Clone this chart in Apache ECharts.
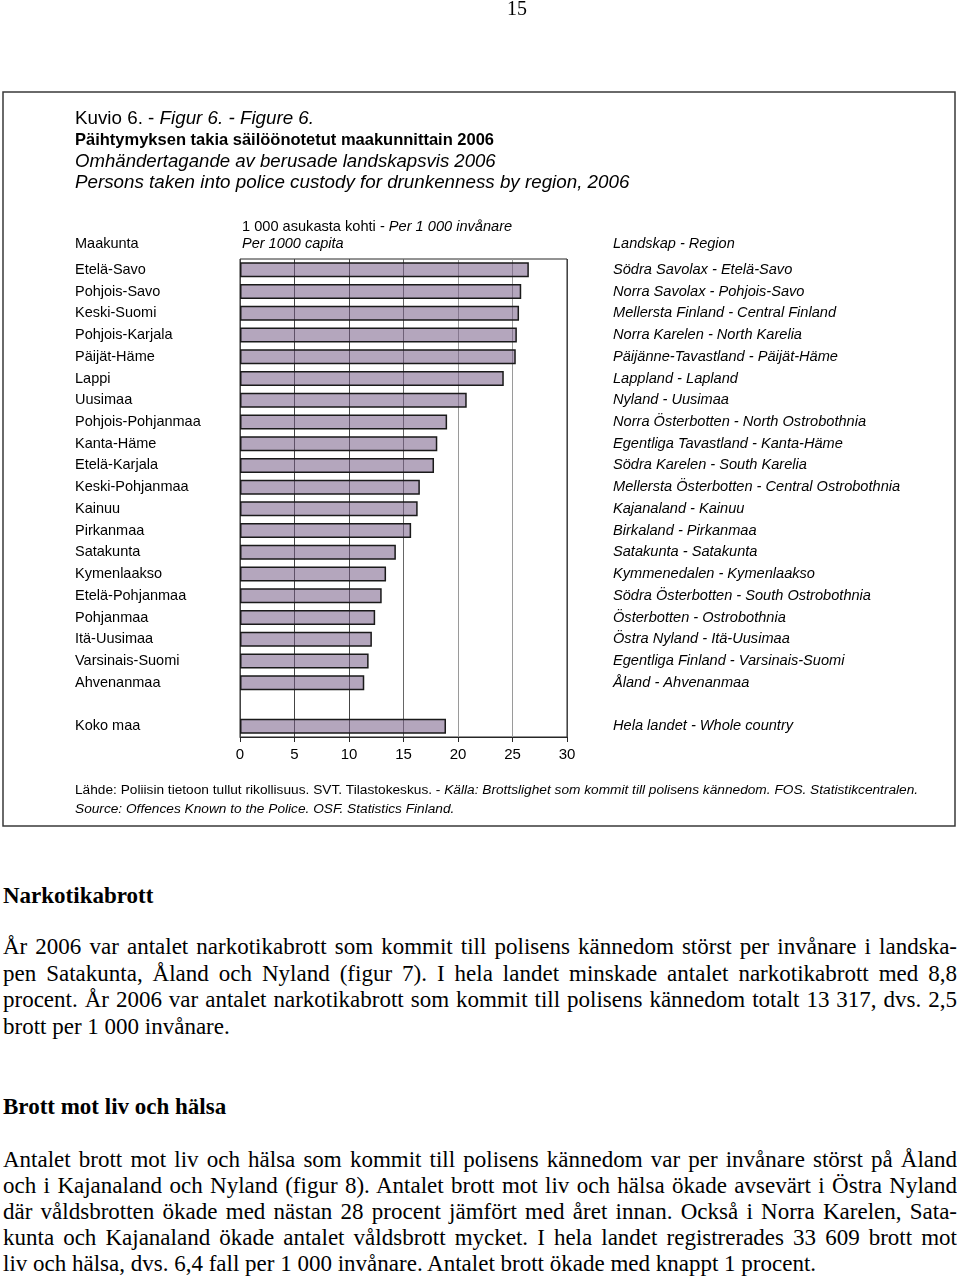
<!DOCTYPE html>
<html><head><meta charset="utf-8">
<script src="https://cdn.jsdelivr.net/npm/echarts@6/dist/echarts.min.js"></script>
<style>
html,body{margin:0;padding:0;background:#fff;}
#page{position:relative;width:960px;height:1279px;overflow:hidden;background:#fff;}
#chart{position:absolute;left:0;top:0;width:960px;height:840px;z-index:1;}
.t{position:absolute;left:3px;width:954px;font-family:"Liberation Serif","Times New Roman",serif;font-size:23px;line-height:26px;color:#000;white-space:nowrap;}
.j{text-align:justify;text-align-last:justify;white-space:normal;height:26px;overflow:hidden;}
.h{font-weight:bold;}
#pg{position:absolute;z-index:5;left:487px;width:60px;top:-4px;text-align:center;font-family:"Liberation Serif","Times New Roman",serif;font-size:20px;line-height:24px;}
</style></head>
<body>
<div id="page">
<div id="pg">15</div>
<div id="chart"></div>
<div class="t h" style="top:883px">Narkotikabrott</div>
<div class="t j" style="top:934px">År 2006 var antalet narkotikabrott som kommit till polisens kännedom störst per invånare i landska-</div>
<div class="t j" style="top:961px">pen Satakunta, Åland och Nyland (figur 7). I hela landet minskade antalet narkotikabrott med 8,8</div>
<div class="t j" style="top:987px">procent. År 2006 var antalet narkotikabrott som kommit till polisens kännedom totalt 13 317, dvs. 2,5</div>
<div class="t" style="top:1014px">brott per 1 000 invånare.</div>
<div class="t h" style="top:1094px">Brott mot liv och hälsa</div>
<div class="t j" style="top:1147px">Antalet brott mot liv och hälsa som kommit till polisens kännedom var per invånare störst på Åland</div>
<div class="t j" style="top:1173px">och i Kajanaland och Nyland (figur 8). Antalet brott mot liv och hälsa ökade avsevärt i Östra Nyland</div>
<div class="t j" style="top:1199px">där våldsbrotten ökade med nästan 28 procent jämfört med året innan. Också i Norra Karelen, Sata-</div>
<div class="t j" style="top:1225px">kunta och Kajanaland ökade antalet våldsbrott mycket. I hela landet registrerades 33 609 brott mot</div>
<div class="t" style="top:1251px">liv och hälsa, dvs. 6,4 fall per 1 000 invånare. Antalet brott ökade med knappt 1 procent.</div>
</div>
<script>
// ---- data ----
const regionsFi = ["Etelä-Savo","Pohjois-Savo","Keski-Suomi","Pohjois-Karjala","Päijät-Häme","Lappi","Uusimaa","Pohjois-Pohjanmaa","Kanta-Häme","Etelä-Karjala","Keski-Pohjanmaa","Kainuu","Pirkanmaa","Satakunta","Kymenlaakso","Etelä-Pohjanmaa","Pohjanmaa","Itä-Uusimaa","Varsinais-Suomi","Ahvenanmaa","","Koko maa"];
const regionsSvEn = ["Södra Savolax - Etelä-Savo","Norra Savolax - Pohjois-Savo","Mellersta Finland - Central Finland","Norra Karelen - North Karelia","Päijänne-Tavastland - Päijät-Häme","Lappland - Lapland","Nyland - Uusimaa","Norra Österbotten - North Ostrobothnia","Egentliga Tavastland - Kanta-Häme","Södra Karelen - South Karelia","Mellersta Österbotten - Central Ostrobothnia","Kajanaland - Kainuu","Birkaland - Pirkanmaa","Satakunta - Satakunta","Kymmenedalen - Kymenlaakso","Södra Österbotten - South Ostrobothnia","Österbotten - Ostrobothnia","Östra Nyland - Itä-Uusimaa","Egentliga Finland - Varsinais-Suomi","Åland - Ahvenanmaa","","Hela landet - Whole country"];
const perThousand = [26.5,25.8,25.6,25.4,25.3,24.2,20.8,19.0,18.1,17.8,16.5,16.3,15.7,14.3,13.4,13.0,12.4,12.1,11.8,11.4,null,18.9];
const axisMin = 0, axisMax = 30, axisStep = 5;

const SANS = '"Liberation Sans", Arial, Helvetica, sans-serif';
const chart = echarts.init(document.getElementById('chart'), null, {renderer:'canvas'});
function txt(x, y, text, opts) {
  return Object.assign({type:'text', x:x, y:y, silent:true, style:Object.assign({
    text:text, fontFamily:SANS, fontSize:14.5, fill:'#000', textVerticalAlign:'middle', textAlign:'left'
  }, opts||{})});
}
const option = {
  animation:false,
  backgroundColor:'transparent',
  grid:{left:240, top:259, width:327, height:478, show:true, borderColor:'#262626', borderWidth:1, containLabel:false, outerBoundsMode:'none'},
  xAxis:{type:'value', min:axisMin, max:axisMax, interval:axisStep,
    axisLine:{show:true, lineStyle:{color:'#262626', width:1}},
    axisTick:{show:true, length:5, lineStyle:{color:'#262626'}},
    axisLabel:{fontFamily:SANS, fontSize:15, color:'#000', margin:10},
    splitLine:{show:true, lineStyle:{width:1, color:['#444','#444','#444','#666','#9a9a9a','#9a9a9a','#444']}}
  },
  yAxis:[
    {type:'category', data:regionsFi, inverse:true, position:'left',
      axisLine:{show:false}, axisTick:{show:false}, splitLine:{show:false},
      axisLabel:{align:'left', margin:165, fontFamily:SANS, fontSize:14.5, color:'#000', interval:0}},
    {type:'category', data:regionsSvEn, inverse:true, position:'right',
      axisLine:{show:false}, axisTick:{show:false}, splitLine:{show:false},
      axisLabel:{align:'left', margin:46, fontFamily:SANS, fontSize:14.6, fontStyle:'italic', color:'#000', interval:0}}
  ],
  series:[{type:'bar', yAxisIndex:0, data:perThousand, barWidth:15, silent:true,
    itemStyle:{color:'rgba(118,92,135,0.55)', borderColor:'#1a1a1a', borderWidth:1.5}}],
  graphic:{elements:[
    {type:'rect', silent:true, shape:{x:3, y:92, width:952, height:734}, style:{fill:'none', stroke:'#3a3a3a', lineWidth:1.5}},
    txt(75, 119, '{n|Kuvio 6. - }{i|Figur 6. - Figure 6.}', {fontSize:18.8, rich:{n:{fontFamily:SANS, fontSize:18.8}, i:{fontFamily:SANS, fontSize:18.8, fontStyle:'italic'}}}),
    txt(75, 140, 'Päihtymyksen takia säilöönotetut maakunnittain 2006', {fontSize:16.5, fontWeight:'bold'}),
    txt(75, 161.5, 'Omhändertagande av berusade landskapsvis 2006', {fontSize:18.6, fontStyle:'italic'}),
    txt(75, 183, 'Persons taken into police custody for drunkenness by region, 2006', {fontSize:18.8, fontStyle:'italic'}),
    txt(242, 227, '{n|1 000 asukasta kohti - }{i|Per 1 000 invånare}', {rich:{n:{fontFamily:SANS, fontSize:14.6}, i:{fontFamily:SANS, fontSize:14.6, fontStyle:'italic'}}}),
    txt(242, 244, 'Per 1000 capita', {fontStyle:'italic'}),
    txt(75, 244, 'Maakunta'),
    txt(613, 244, 'Landskap - Region', {fontStyle:'italic'}),
    txt(75, 790, '{n|Lähde: Poliisin tietoon tullut rikollisuus. SVT. Tilastokeskus. - }{i|Källa: Brottslighet som kommit till polisens kännedom. FOS. Statistikcentralen.}', {fontSize:13.7, rich:{n:{fontFamily:SANS, fontSize:13.7}, i:{fontFamily:SANS, fontSize:13.7, fontStyle:'italic'}}}),
    txt(75, 809, 'Source: Offences Known to the Police. OSF. Statistics Finland.', {fontSize:13.7, fontStyle:'italic'})
  ]}
};
chart.setOption(option);
</script>
</body></html>
